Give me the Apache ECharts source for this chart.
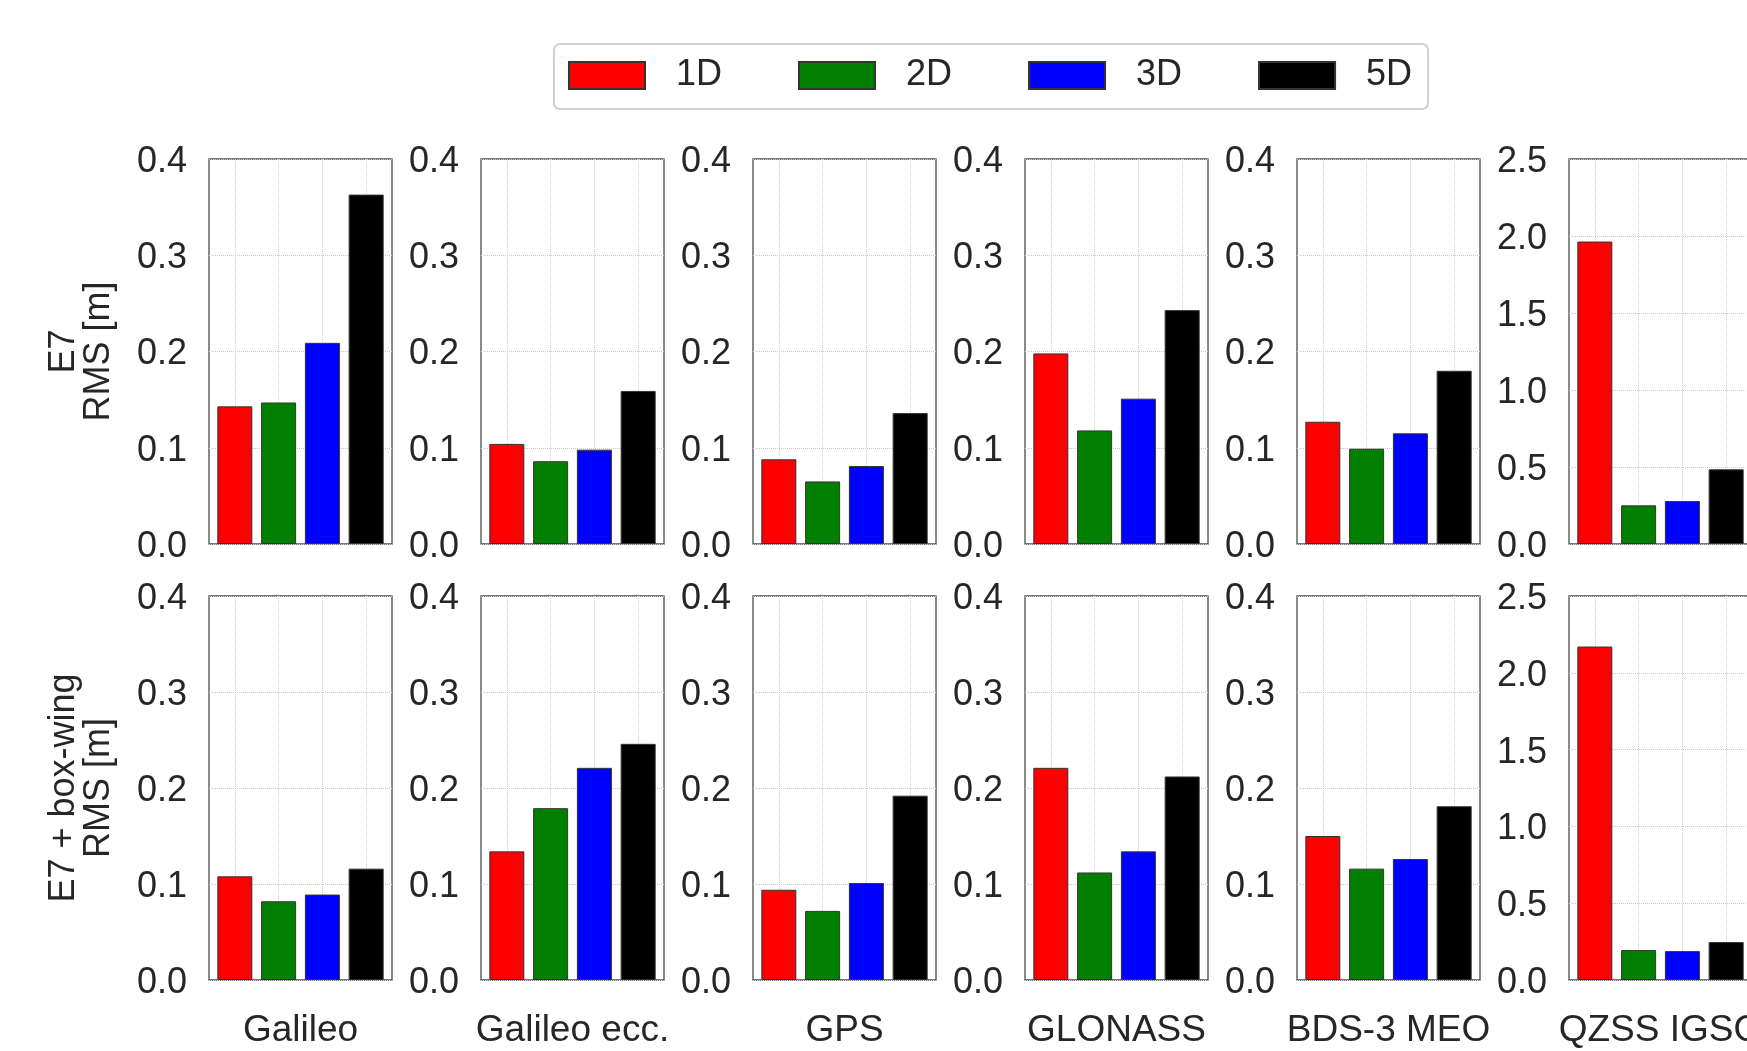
<!DOCTYPE html>
<html><head><meta charset="utf-8">
<script src="https://cdn.jsdelivr.net/npm/echarts@6/dist/echarts.min.js"></script>
<style>html,body{margin:0;padding:0;background:#fff}#c{width:1747px;height:1051px}</style>
</head><body><div id="c"></div>
<script>
// ---- data ----
const systems = ['Galileo', 'Galileo ecc.', 'GPS', 'GLONASS', 'BDS-3 MEO', 'QZSS IGSO'];
const dims = ['1D', '2D', '3D', '5D'];
const rowLabels = ['E7\nRMS [m]', 'E7 + box-wing\nRMS [m]'];
// E7 model
const e7_1D = [0.143, 0.104, 0.088, 0.198, 0.127, 1.964];
const e7_2D = [0.147, 0.086, 0.065, 0.118, 0.099, 0.251];
const e7_3D = [0.209, 0.098, 0.081, 0.151, 0.115, 0.279];
const e7_5D = [0.363, 0.159, 0.136, 0.243, 0.180, 0.485];
// E7 + box-wing model
const bw_1D = [0.108, 0.134, 0.094, 0.221, 0.150, 2.171];
const bw_2D = [0.082, 0.179, 0.072, 0.112, 0.116, 0.195];
const bw_3D = [0.089, 0.221, 0.101, 0.134, 0.126, 0.188];
const bw_5D = [0.116, 0.246, 0.192, 0.212, 0.181, 0.247];
// y tick labels
const yTicksSmall = [0.0, 0.1, 0.2, 0.3, 0.4];
const yTicksQZSS = [0.0, 0.5, 1.0, 1.5, 2.0, 2.5];

// ---- layout / style ----
const rowsData = [[e7_1D, e7_2D, e7_3D, e7_5D], [bw_1D, bw_2D, bw_3D, bw_5D]];
const colors = ['#ff0000', '#008000', '#0000ff', '#000000'];
const FONT = 'Liberation Sans, Arial, sans-serif';
const TXT = '#262626';
const lefts = [209, 481, 753, 1025, 1297, 1569];
const panelW = 183;
const tops = [159, 596];
const heights = [385, 384];
const xMin = -0.59, xMax = 3.59;
const barW = 0.8 / (xMax - xMin) * panelW;

const grid = [], xAxis = [], yAxis = [], series = [];
const gridLine = {show: true, lineStyle: {color: '#cccccc', type: 'dotted', width: 1}};
for (let r = 0; r < 2; r++) {
  for (let c = 0; c < 6; c++) {
    const g = grid.length;
    grid.push({left: lefts[c], top: tops[r], width: panelW, height: heights[r],
      show: true, borderColor: '#4d4d4d', borderWidth: 1.3, backgroundColor: '#fff',
      containLabel: false, outerBoundsMode: 'none'});
    xAxis.push({type: 'value', gridIndex: g, min: xMin, max: xMax,
      axisLine: {show: false}, axisTick: {show: false, customValues: [0, 1, 2, 3]},
      axisLabel: {show: false}, splitLine: gridLine,
      name: r === 1 ? systems[c] : '', nameLocation: 'middle', nameGap: 32,
      nameTextStyle: {fontSize: 37, color: TXT, fontFamily: FONT}});
    const ticks = c === 5 ? yTicksQZSS : yTicksSmall;
    yAxis.push({type: 'value', gridIndex: g, min: ticks[0], max: ticks[ticks.length - 1],
      interval: ticks[1] - ticks[0],
      axisLine: {show: false}, axisTick: {show: false},
      axisLabel: {fontSize: 36, color: TXT, fontFamily: FONT, margin: 22,
        verticalAlign: 'top', lineHeight: 6,
        formatter: v => v.toFixed(1)},
      splitLine: gridLine,
      name: c === 0 ? rowLabels[r] : '', nameLocation: 'middle', nameRotate: 90, nameGap: 92,
      nameTextStyle: {fontSize: 36, lineHeight: 35, color: TXT, fontFamily: FONT, align: 'center'}});
    for (let d = 0; d < 4; d++) {
      series.push({type: 'bar', name: dims[d], xAxisIndex: g, yAxisIndex: g,
        data: [[d, rowsData[r][d][c]]], barWidth: barW, barGap: '-100%',
        itemStyle: {color: colors[d], borderColor: '#333', borderWidth: 1},
        silent: true});
    }
  }
}

const chart = echarts.init(document.getElementById('c'));
chart.setOption({
  animation: false,
  backgroundColor: '#fff',
  textStyle: {fontFamily: FONT},
  legend: {data: dims, left: 554, top: 44, orient: 'horizontal',
    itemWidth: 76, itemHeight: 27, itemGap: 76, icon: 'rect',
    padding: [11, 16, 13, 14], borderColor: '#d0d0d0', borderWidth: 2, borderRadius: 6,
    backgroundColor: '#fff',
    textStyle: {fontSize: 36, color: TXT, fontFamily: FONT, padding: [5, 0, 0, 26], lineHeight: 36}},
  grid, xAxis, yAxis, series
});
</script></body></html>
